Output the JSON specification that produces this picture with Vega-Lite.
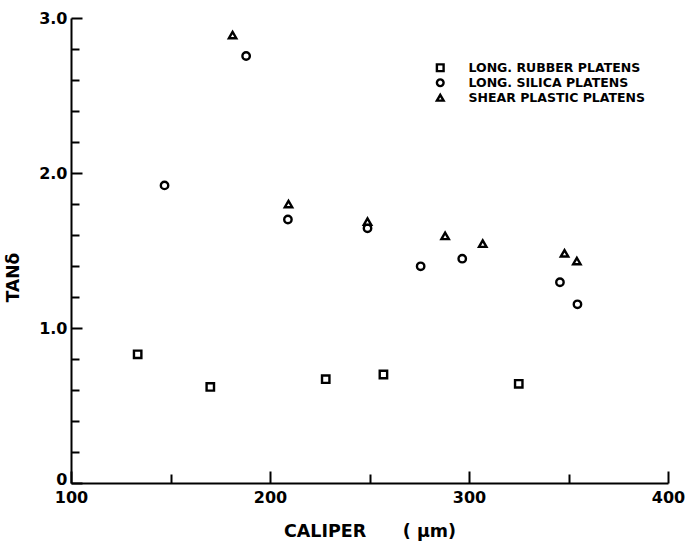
{
  "$schema": "https://vega.github.io/schema/vega-lite/v6.json",
  "width": 597,
  "height": 465,
  "padding": {"left": 71, "top": 18, "right": 21, "bottom": 58},
  "autosize": {"type": "none"},
  "background": "white",
  "config": {"view": {"stroke": null}, "font": "DejaVu Sans"},
  "data": {"values": [
    {"caliper": 133.5, "tan": 0.83, "series": "LONG. RUBBER PLATENS"},
    {"caliper": 170, "tan": 0.62, "series": "LONG. RUBBER PLATENS"},
    {"caliper": 228, "tan": 0.67, "series": "LONG. RUBBER PLATENS"},
    {"caliper": 257, "tan": 0.70, "series": "LONG. RUBBER PLATENS"},
    {"caliper": 325, "tan": 0.64, "series": "LONG. RUBBER PLATENS"},
    {"caliper": 147, "tan": 1.92, "series": "LONG. SILICA PLATENS"},
    {"caliper": 188, "tan": 2.755, "series": "LONG. SILICA PLATENS"},
    {"caliper": 209, "tan": 1.70, "series": "LONG. SILICA PLATENS"},
    {"caliper": 249, "tan": 1.643, "series": "LONG. SILICA PLATENS"},
    {"caliper": 275.7, "tan": 1.398, "series": "LONG. SILICA PLATENS"},
    {"caliper": 296.6, "tan": 1.447, "series": "LONG. SILICA PLATENS"},
    {"caliper": 345.7, "tan": 1.295, "series": "LONG. SILICA PLATENS"},
    {"caliper": 354.5, "tan": 1.153, "series": "LONG. SILICA PLATENS"},
    {"caliper": 181.2, "tan": 2.89, "series": "SHEAR PLASTIC PLATENS"},
    {"caliper": 209.3, "tan": 1.80, "series": "SHEAR PLASTIC PLATENS"},
    {"caliper": 249, "tan": 1.686, "series": "SHEAR PLASTIC PLATENS"},
    {"caliper": 288, "tan": 1.594, "series": "SHEAR PLASTIC PLATENS"},
    {"caliper": 306.9, "tan": 1.544, "series": "SHEAR PLASTIC PLATENS"},
    {"caliper": 348, "tan": 1.482, "series": "SHEAR PLASTIC PLATENS"},
    {"caliper": 354.2, "tan": 1.432, "series": "SHEAR PLASTIC PLATENS"}
  ]},
  "mark": {"type": "point", "filled": false, "strokeWidth": 2.4, "color": "black", "opacity": 1, "size": 55},
  "encoding": {
    "x": {"field": "caliper", "type": "quantitative", "scale": {"domain": [100, 400], "nice": false},
      "axis": {"title": "CALIPER\u00a0\u00a0\u00a0\u00a0\u00a0\u00a0( \u03bcm)", "values": [100,150,200,250,300,350,400], "labelExpr": "datum.value % 100 == 0 ? datum.value : ''", "grid": false, "tickSize": {"condition": {"test": "datum.value % 100 == 0", "value": -12}, "value": -9}, "domainColor": "black", "tickColor": "black", "domainWidth": 2, "tickWidth": 2, "labelFontSize": 16, "labelFontWeight": "bold", "labelColor": "black", "labelPadding": 18, "labelFlush": false, "labelOverlap": false, "titleFontSize": 17.5, "titleFontWeight": "bold", "titleColor": "black", "titleBaseline": "alphabetic", "titleY": 53}},
    "y": {"field": "tan", "type": "quantitative", "scale": {"domain": [0, 3], "nice": false},
      "axis": {"title": "TAN\u03b4", "values": [0,0.2,0.4,0.6,0.8,1,1.2,1.4,1.6,1.8,2,2.2,2.4,2.6,2.8,3], "labelExpr": "datum.value == 0 ? '0' : (abs(datum.value - round(datum.value)) < 0.001 ? format(datum.value, '.1f') : '')", "grid": false, "tickSize": {"condition": {"test": "abs(datum.value - round(datum.value)) < 0.001", "value": -11}, "value": -8}, "labelOffset": {"condition": {"test": "datum.value == 0", "value": -4}, "value": 0}, "domainColor": "black", "tickColor": "black", "domainWidth": 2, "tickWidth": 2, "labelFontSize": 16, "labelFontWeight": "bold", "labelColor": "black", "labelPadding": 15, "labelFlush": false, "labelOverlap": false, "titleFontSize": 17, "titleFontWeight": "bold", "titleColor": "black", "titleAngle": -90, "titleAlign": "center", "titleBaseline": "bottom", "titleX": -49, "titleY": 259}},
    "shape": {"field": "series", "type": "nominal",
      "scale": {"domain": ["LONG. RUBBER PLATENS", "LONG. SILICA PLATENS", "SHEAR PLASTIC PLATENS"], "range": ["square", "circle", "triangle-up"]},
      "legend": {"title": null, "orient": "none", "legendX": 363, "legendY": 43.5, "padding": 0, "labelFontSize": 12.5, "labelFontWeight": "bold", "labelColor": "black", "labelOffset": 22, "labelLimit": 400, "symbolStrokeColor": "black", "symbolStrokeWidth": 2.4, "symbolFillColor": "white", "symbolOpacity": 1, "rowPadding": -4, "symbolSize": 45}}
  }
}
